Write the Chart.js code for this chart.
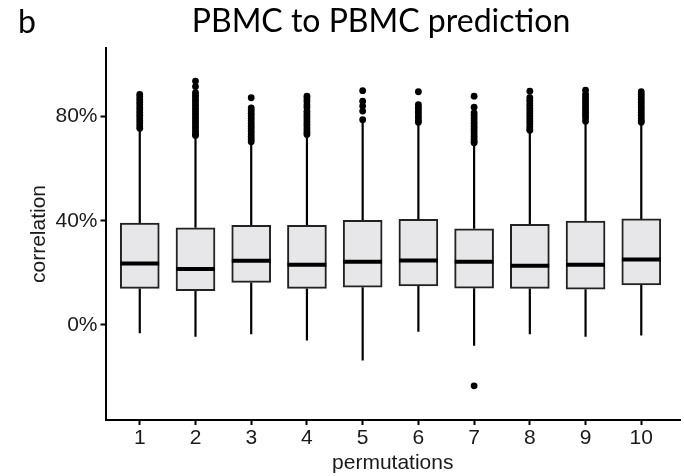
<!DOCTYPE html>
<html>
<head>
<meta charset="utf-8">
<script src="https://cdn.jsdelivr.net/npm/chart.js@4/dist/chart.umd.min.js"></script>
<style>
  html, body { margin: 0; padding: 0; background: #fff; }
  #wrap { width: 684px; height: 476px; position: relative; }
</style>
</head>
<body>
<div id="wrap"><canvas id="c" width="684" height="476"></canvas></div>
<script>
// ---- data ----
const categories = [1, 2, 3, 4, 5, 6, 7, 8, 9, 10];
const yTicks = [0, 40, 80];
const q1 = [14.0, 13.1, 16.3, 14.0, 14.5, 15.0, 14.1, 14.0, 13.7, 15.4];
const medians = [23.6, 21.5, 24.6, 23.1, 24.2, 24.7, 24.2, 22.7, 23.1, 25.1];
const q3 = [39.1, 37.3, 38.2, 38.2, 40.1, 40.5, 36.9, 38.6, 39.9, 40.7];
const whiskerLow = [-3.2, -4.5, -3.6, -6.0, -13.7, -2.6, -8.0, -3.6, -4.5, -4.1];
const whiskerHigh = [75.2, 72.5, 70.0, 73.0, 78.5, 77.5, 69.7, 74.5, 78.0, 77.6];
const outliers1 = [88.5, 87.5, 86.5, 85.5, 84.5, 83.5, 82.5, 81.5, 80.5, 79.5, 78.5, 77.5, 76.5, 75.5];
const outliers2 = [93.6, 91.5, 89.2, 88.2, 87.2, 86.2, 85.2, 84.2, 83.2, 82.2, 81.2, 80.2, 79.2, 78.2, 77.2, 76.2, 75.2, 74.2, 73.2, 72.7];
const outliers3 = [87.2, 83.3, 82.3, 81.3, 80.3, 79.3, 78.3, 77.3, 76.3, 75.3, 74.3, 73.3, 72.3, 71.3, 70.3];
const outliers4 = [87.8, 86.8, 85.8, 84.5, 83.5, 82.0, 81.0, 80.0, 79.0, 78.0, 77.0, 76.0, 75.0, 74.0, 73.1];
const outliers5 = [89.9, 85.9, 84.0, 82.1, 78.8];
const outliers6 = [89.5, 84.6, 83.6, 82.6, 81.6, 80.6, 79.6, 78.6, 77.8];
const outliers7 = [87.8, 83.6, 81.4, 80.4, 79.4, 78.4, 77.4, 76.4, 75.4, 74.4, 73.4, 72.4, 71.4, 70.4, 69.9, -23.4];
const outliers8 = [89.7, 87.2, 86.2, 85.2, 84.2, 83.2, 82.2, 81.2, 80.2, 79.2, 78.2, 77.2, 76.2, 75.2, 74.7];
const outliers9 = [90.1, 88.5, 87.5, 86.5, 85.5, 84.5, 83.5, 82.5, 81.5, 80.5, 79.5, 78.2];
const outliers10 = [89.5, 88.5, 87.5, 86.5, 85.5, 84.5, 83.5, 82.5, 81.5, 80.5, 79.5, 78.5, 77.8];
const outlierLists = [outliers1, outliers2, outliers3, outliers4, outliers5, outliers6, outliers7, outliers8, outliers9, outliers10];

// ---- derived tables for the library ----
const HALF = 0.348; // half box width in category units
const boxData = categories.map((c, i) => ({ x: c, y: [q1[i], q3[i]] }));
const medianData = [];
categories.forEach((c, i) => {
  medianData.push({ x: c - HALF, y: medians[i] }, { x: c + HALF, y: medians[i] }, { x: c, y: null });
});
const whiskerData = [];
categories.forEach((c, i) => {
  whiskerData.push({ x: c, y: q3[i] }, { x: c, y: whiskerHigh[i] }, { x: c, y: null });
  whiskerData.push({ x: c, y: q1[i] }, { x: c, y: whiskerLow[i] }, { x: c, y: null });
});
const outlierData = [];
categories.forEach((c, i) => outlierLists[i].forEach(v => outlierData.push({ x: c, y: v })));

const tickFont = { family: "Arial, 'Liberation Sans', sans-serif", size: 21 };

const textPlugin = {
  id: 'texts',
  afterDraw(chart) {
    const ctx = chart.ctx;
    ctx.save();
    ctx.fillStyle = '#000';
    ctx.textBaseline = 'middle';
    ctx.font = "32px Lato, 'Open Sans', sans-serif";
    ctx.textAlign = 'left';
    ctx.fillText('b', 18, 23);
    ctx.textAlign = 'center';
    ctx.fillText('PBMC to PBMC prediction', 381, 22);
    ctx.restore();
  }
};

new Chart(document.getElementById('c'), {
  data: {
    datasets: [
      {
        type: 'line', label: 'median', data: medianData, order: 0,
        borderColor: '#000', borderWidth: 4, pointRadius: 0, spanGaps: false,
        borderCapStyle: 'butt', fill: false
      },
      {
        type: 'scatter', label: 'outliers', data: outlierData, order: 1,
        backgroundColor: '#000', borderColor: '#000', pointRadius: 3.4, borderWidth: 0
      },
      {
        type: 'bar', label: 'box', data: boxData, order: 2,
        backgroundColor: '#e7e7e9', borderColor: '#222', borderWidth: 2,
        borderSkipped: false, barThickness: 39
      },
      {
        type: 'line', label: 'whisker', data: whiskerData, order: 3,
        borderColor: '#000', borderWidth: 2.2, pointRadius: 0, spanGaps: false,
        borderCapStyle: 'butt', fill: false
      }
    ]
  },
  options: {
    responsive: false,
    animation: false,
    events: [],
    layout: { padding: { top: 48, right: 0, bottom: 0, left: 0 } },
    plugins: { legend: { display: false }, tooltip: { enabled: false }, title: { display: false } },
    scales: {
      x: {
        type: 'linear', min: 0.385, max: 10.695, offset: false,
        afterFit(s) { s.height = 56; },
        afterBuildTicks(s) { s.ticks = categories.map(v => ({ value: v })); },
        ticks: { font: tickFont, color: '#1a1a1a', padding: 1, callback: v => String(v), maxRotation: 0, autoSkip: false },
        grid: { offset: false, drawOnChartArea: false, drawTicks: true, tickLength: 5, tickColor: '#000', tickWidth: 2 },
        border: { display: true, color: '#000', width: 2 },
        title: { display: true, text: 'permutations', font: tickFont, color: '#1a1a1a', padding: { top: 0, bottom: 0 } }
      },
      y: {
        type: 'linear', min: -36.5, max: 106.3,
        afterFit(s) { s.width = 105.5; },
        afterBuildTicks(s) { s.ticks = yTicks.map(v => ({ value: v })); },
        ticks: { font: tickFont, color: '#1a1a1a', padding: 3, callback: v => v + '%' },
        grid: { drawOnChartArea: false, drawTicks: true, tickLength: 5, tickColor: '#000', tickWidth: 2 },
        border: { display: true, color: '#000', width: 2 },
        title: { display: true, text: 'correlation', font: tickFont, color: '#1a1a1a', padding: { top: 27, bottom: 0 } }
      }
    }
  },
  plugins: [textPlugin]
});
</script>
</body>
</html>
